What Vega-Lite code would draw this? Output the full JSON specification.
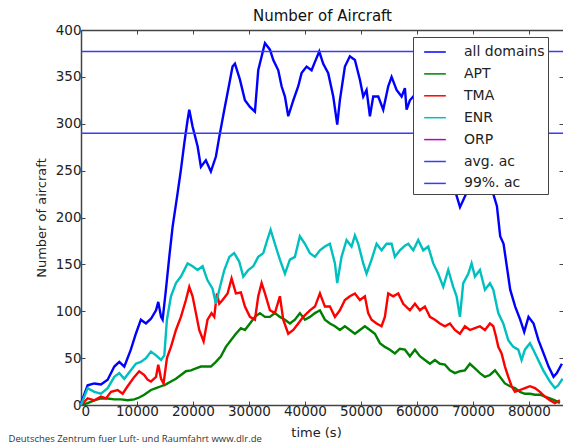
{
  "$schema": "https://vega.github.io/schema/vega-lite/v6.json",
  "width": 482,
  "height": 375,
  "autosize": {"type": "none"},
  "padding": {"left": 81, "top": 30, "right": 0, "bottom": 42},
  "background": "white",
  "config": {
    "view": {"stroke": null},
    "font": "DejaVu Sans",
    "axis": {
      "grid": false,
      "domainColor": "#444",
      "domainWidth": 1.5,
      "tickColor": "#444",
      "tickSize": -4,
      "tickWidth": 1,
      "labelFont": "DejaVu Sans",
      "labelFontSize": 13.5,
      "labelColor": "#222",
      "titleFont": "DejaVu Sans",
      "titleFontSize": 13,
      "titleFontWeight": "normal",
      "titleColor": "#222"
    }
  },
  "datasets": {
    "series": [
      {"s":"all domains","t":0,"v":2},{"s":"all domains","t":1190,"v":21},{"s":"all domains","t":2380,"v":23},{"s":"all domains","t":3570,"v":22},{"s":"all domains","t":4760,"v":27},{"s":"all domains","t":5950,"v":41},{"s":"all domains","t":6840,"v":46},{"s":"all domains","t":7735,"v":41},{"s":"all domains","t":8900,"v":59},{"s":"all domains","t":9800,"v":76},{"s":"all domains","t":10700,"v":91},{"s":"all domains","t":11600,"v":87},{"s":"all domains","t":12500,"v":92},{"s":"all domains","t":13400,"v":101},{"s":"all domains","t":13800,"v":110},{"s":"all domains","t":14300,"v":94},{"s":"all domains","t":14580,"v":91},{"s":"all domains","t":15170,"v":123},{"s":"all domains","t":15770,"v":158},{"s":"all domains","t":16360,"v":190},{"s":"all domains","t":17255,"v":226},{"s":"all domains","t":17850,"v":251},{"s":"all domains","t":18450,"v":279},{"s":"all domains","t":19040,"v":304},{"s":"all domains","t":19340,"v":315},{"s":"all domains","t":19930,"v":297},{"s":"all domains","t":20825,"v":276},{"s":"all domains","t":21420,"v":254},{"s":"all domains","t":22300,"v":261},{"s":"all domains","t":23200,"v":249},{"s":"all domains","t":24100,"v":265},{"s":"all domains","t":24700,"v":286},{"s":"all domains","t":25600,"v":315},{"s":"all domains","t":26500,"v":343},{"s":"all domains","t":27070,"v":361},{"s":"all domains","t":27500,"v":364},{"s":"all domains","t":28390,"v":347},{"s":"all domains","t":29285,"v":325},{"s":"all domains","t":30180,"v":318},{"s":"all domains","t":31070,"v":313},{"s":"all domains","t":31660,"v":357},{"s":"all domains","t":32560,"v":379},{"s":"all domains","t":32860,"v":386},{"s":"all domains","t":33750,"v":379},{"s":"all domains","t":34350,"v":368},{"s":"all domains","t":35240,"v":357},{"s":"all domains","t":35830,"v":340},{"s":"all domains","t":36430,"v":329},{"s":"all domains","t":37020,"v":308},{"s":"all domains","t":37920,"v":325},{"s":"all domains","t":38810,"v":340},{"s":"all domains","t":39400,"v":354},{"s":"all domains","t":40300,"v":361},{"s":"all domains","t":41190,"v":357},{"s":"all domains","t":41790,"v":366},{"s":"all domains","t":42560,"v":377},{"s":"all domains","t":43270,"v":364},{"s":"all domains","t":44160,"v":354},{"s":"all domains","t":45060,"v":329},{"s":"all domains","t":45770,"v":299},{"s":"all domains","t":46240,"v":325},{"s":"all domains","t":47140,"v":361},{"s":"all domains","t":48030,"v":372},{"s":"all domains","t":48930,"v":368},{"s":"all domains","t":49820,"v":347},{"s":"all domains","t":50420,"v":329},{"s":"all domains","t":51010,"v":336},{"s":"all domains","t":51610,"v":308},{"s":"all domains","t":52200,"v":329},{"s":"all domains","t":53100,"v":329},{"s":"all domains","t":53990,"v":315},{"s":"all domains","t":54880,"v":340},{"s":"all domains","t":55480,"v":350},{"s":"all domains","t":56370,"v":336},{"s":"all domains","t":57270,"v":329},{"s":"all domains","t":57860,"v":338},{"s":"all domains","t":58160,"v":315},{"s":"all domains","t":58750,"v":325},{"s":"all domains","t":59500,"v":330},{"s":"all domains","t":60500,"v":320},{"s":"all domains","t":62000,"v":305},{"s":"all domains","t":63500,"v":290},{"s":"all domains","t":65000,"v":265},{"s":"all domains","t":66500,"v":235},{"s":"all domains","t":67700,"v":211},{"s":"all domains","t":69000,"v":228},{"s":"all domains","t":70500,"v":240},{"s":"all domains","t":72000,"v":235},{"s":"all domains","t":73500,"v":228},{"s":"all domains","t":74300,"v":212},{"s":"all domains","t":74880,"v":180},{"s":"all domains","t":75480,"v":172},{"s":"all domains","t":76670,"v":123},{"s":"all domains","t":77560,"v":105},{"s":"all domains","t":78450,"v":91},{"s":"all domains","t":79170,"v":78},{"s":"all domains","t":79940,"v":94},{"s":"all domains","t":80840,"v":87},{"s":"all domains","t":81730,"v":69},{"s":"all domains","t":82630,"v":55},{"s":"all domains","t":83520,"v":41},{"s":"all domains","t":84410,"v":30},{"s":"all domains","t":85000,"v":34},{"s":"all domains","t":85900,"v":44},
      {"s":"APT","t":0,"v":0},{"s":"APT","t":1190,"v":2},{"s":"APT","t":2380,"v":5},{"s":"APT","t":3570,"v":7},{"s":"APT","t":4760,"v":7},{"s":"APT","t":5950,"v":6},{"s":"APT","t":7140,"v":6},{"s":"APT","t":8330,"v":5},{"s":"APT","t":9520,"v":6},{"s":"APT","t":10400,"v":8},{"s":"APT","t":11300,"v":11},{"s":"APT","t":12500,"v":16},{"s":"APT","t":13400,"v":18},{"s":"APT","t":14300,"v":20},{"s":"APT","t":15170,"v":22},{"s":"APT","t":16070,"v":25},{"s":"APT","t":16960,"v":28},{"s":"APT","t":17850,"v":32},{"s":"APT","t":18740,"v":36},{"s":"APT","t":19640,"v":37},{"s":"APT","t":20530,"v":39},{"s":"APT","t":21420,"v":41},{"s":"APT","t":22300,"v":41},{"s":"APT","t":23200,"v":41},{"s":"APT","t":24100,"v":46},{"s":"APT","t":25000,"v":52},{"s":"APT","t":25880,"v":62},{"s":"APT","t":26780,"v":69},{"s":"APT","t":27670,"v":76},{"s":"APT","t":28560,"v":82},{"s":"APT","t":29285,"v":80},{"s":"APT","t":30180,"v":87},{"s":"APT","t":31070,"v":94},{"s":"APT","t":31960,"v":98},{"s":"APT","t":32860,"v":94},{"s":"APT","t":33750,"v":94},{"s":"APT","t":34630,"v":98},{"s":"APT","t":35530,"v":94},{"s":"APT","t":36430,"v":91},{"s":"APT","t":37320,"v":87},{"s":"APT","t":38210,"v":91},{"s":"APT","t":39100,"v":98},{"s":"APT","t":40000,"v":91},{"s":"APT","t":40890,"v":94},{"s":"APT","t":41790,"v":98},{"s":"APT","t":42680,"v":101},{"s":"APT","t":43570,"v":91},{"s":"APT","t":44460,"v":87},{"s":"APT","t":45360,"v":84},{"s":"APT","t":46240,"v":80},{"s":"APT","t":47140,"v":84},{"s":"APT","t":48030,"v":80},{"s":"APT","t":48930,"v":76},{"s":"APT","t":49820,"v":80},{"s":"APT","t":50710,"v":84},{"s":"APT","t":51610,"v":80},{"s":"APT","t":52500,"v":76},{"s":"APT","t":53390,"v":66},{"s":"APT","t":54280,"v":62},{"s":"APT","t":55180,"v":59},{"s":"APT","t":56070,"v":55},{"s":"APT","t":56960,"v":60},{"s":"APT","t":57860,"v":59},{"s":"APT","t":58750,"v":52},{"s":"APT","t":59650,"v":59},{"s":"APT","t":60540,"v":52},{"s":"APT","t":61430,"v":48},{"s":"APT","t":62330,"v":44},{"s":"APT","t":63220,"v":48},{"s":"APT","t":64110,"v":44},{"s":"APT","t":65010,"v":43},{"s":"APT","t":65900,"v":37},{"s":"APT","t":66790,"v":34},{"s":"APT","t":67690,"v":36},{"s":"APT","t":68580,"v":37},{"s":"APT","t":69470,"v":44},{"s":"APT","t":70370,"v":39},{"s":"APT","t":71260,"v":34},{"s":"APT","t":72160,"v":30},{"s":"APT","t":73050,"v":32},{"s":"APT","t":73950,"v":37},{"s":"APT","t":74840,"v":30},{"s":"APT","t":75730,"v":23},{"s":"APT","t":76630,"v":20},{"s":"APT","t":77520,"v":18},{"s":"APT","t":78410,"v":14},{"s":"APT","t":79300,"v":12},{"s":"APT","t":80200,"v":12},{"s":"APT","t":81090,"v":11},{"s":"APT","t":81980,"v":11},{"s":"APT","t":82870,"v":9},{"s":"APT","t":83760,"v":7},{"s":"APT","t":84650,"v":5},{"s":"APT","t":85540,"v":2},
      {"s":"TMA","t":0,"v":0},{"s":"TMA","t":1190,"v":7},{"s":"TMA","t":2380,"v":5},{"s":"TMA","t":3570,"v":9},{"s":"TMA","t":4460,"v":7},{"s":"TMA","t":5360,"v":14},{"s":"TMA","t":6540,"v":16},{"s":"TMA","t":7440,"v":12},{"s":"TMA","t":8330,"v":20},{"s":"TMA","t":9520,"v":30},{"s":"TMA","t":10400,"v":36},{"s":"TMA","t":11300,"v":32},{"s":"TMA","t":11900,"v":27},{"s":"TMA","t":12500,"v":25},{"s":"TMA","t":13400,"v":30},{"s":"TMA","t":13800,"v":43},{"s":"TMA","t":14300,"v":28},{"s":"TMA","t":14750,"v":23},{"s":"TMA","t":15350,"v":50},{"s":"TMA","t":16070,"v":62},{"s":"TMA","t":16960,"v":80},{"s":"TMA","t":17850,"v":94},{"s":"TMA","t":18740,"v":112},{"s":"TMA","t":19340,"v":126},{"s":"TMA","t":19930,"v":116},{"s":"TMA","t":20530,"v":98},{"s":"TMA","t":21120,"v":80},{"s":"TMA","t":21900,"v":68},{"s":"TMA","t":22600,"v":91},{"s":"TMA","t":23320,"v":98},{"s":"TMA","t":23800,"v":94},{"s":"TMA","t":24280,"v":119},{"s":"TMA","t":24700,"v":108},{"s":"TMA","t":25290,"v":112},{"s":"TMA","t":26180,"v":119},{"s":"TMA","t":26900,"v":135},{"s":"TMA","t":27670,"v":119},{"s":"TMA","t":28560,"v":120},{"s":"TMA","t":29285,"v":105},{"s":"TMA","t":30180,"v":94},{"s":"TMA","t":31070,"v":91},{"s":"TMA","t":31660,"v":116},{"s":"TMA","t":32260,"v":130},{"s":"TMA","t":32860,"v":119},{"s":"TMA","t":33750,"v":101},{"s":"TMA","t":34630,"v":98},{"s":"TMA","t":35530,"v":116},{"s":"TMA","t":36130,"v":91},{"s":"TMA","t":37020,"v":76},{"s":"TMA","t":37920,"v":80},{"s":"TMA","t":38810,"v":87},{"s":"TMA","t":39700,"v":94},{"s":"TMA","t":40890,"v":101},{"s":"TMA","t":41790,"v":105},{"s":"TMA","t":42680,"v":119},{"s":"TMA","t":43570,"v":105},{"s":"TMA","t":44460,"v":105},{"s":"TMA","t":45360,"v":94},{"s":"TMA","t":46240,"v":101},{"s":"TMA","t":47140,"v":112},{"s":"TMA","t":48030,"v":116},{"s":"TMA","t":48930,"v":119},{"s":"TMA","t":49820,"v":112},{"s":"TMA","t":50710,"v":116},{"s":"TMA","t":51300,"v":98},{"s":"TMA","t":51900,"v":91},{"s":"TMA","t":52800,"v":87},{"s":"TMA","t":53690,"v":84},{"s":"TMA","t":54280,"v":94},{"s":"TMA","t":54880,"v":119},{"s":"TMA","t":55770,"v":116},{"s":"TMA","t":56670,"v":119},{"s":"TMA","t":57560,"v":108},{"s":"TMA","t":58750,"v":101},{"s":"TMA","t":59650,"v":108},{"s":"TMA","t":60540,"v":101},{"s":"TMA","t":61430,"v":105},{"s":"TMA","t":62330,"v":94},{"s":"TMA","t":63220,"v":91},{"s":"TMA","t":64110,"v":87},{"s":"TMA","t":65010,"v":84},{"s":"TMA","t":65900,"v":87},{"s":"TMA","t":66790,"v":80},{"s":"TMA","t":67690,"v":76},{"s":"TMA","t":68580,"v":84},{"s":"TMA","t":69470,"v":80},{"s":"TMA","t":70370,"v":82},{"s":"TMA","t":71260,"v":84},{"s":"TMA","t":72160,"v":80},{"s":"TMA","t":73050,"v":87},{"s":"TMA","t":73650,"v":84},{"s":"TMA","t":74130,"v":73},{"s":"TMA","t":74540,"v":62},{"s":"TMA","t":75130,"v":55},{"s":"TMA","t":75730,"v":41},{"s":"TMA","t":76330,"v":30},{"s":"TMA","t":76920,"v":20},{"s":"TMA","t":77520,"v":14},{"s":"TMA","t":78410,"v":16},{"s":"TMA","t":79300,"v":18},{"s":"TMA","t":80200,"v":20},{"s":"TMA","t":81090,"v":18},{"s":"TMA","t":81980,"v":14},{"s":"TMA","t":82870,"v":9},{"s":"TMA","t":83760,"v":5},{"s":"TMA","t":84650,"v":2},{"s":"TMA","t":85540,"v":5},
      {"s":"ENR","t":0,"v":0},{"s":"ENR","t":1190,"v":18},{"s":"ENR","t":2380,"v":14},{"s":"ENR","t":3570,"v":12},{"s":"ENR","t":4760,"v":18},{"s":"ENR","t":5950,"v":30},{"s":"ENR","t":6840,"v":34},{"s":"ENR","t":7735,"v":28},{"s":"ENR","t":8900,"v":37},{"s":"ENR","t":9800,"v":44},{"s":"ENR","t":10700,"v":46},{"s":"ENR","t":11600,"v":50},{"s":"ENR","t":12500,"v":57},{"s":"ENR","t":13400,"v":53},{"s":"ENR","t":14300,"v":48},{"s":"ENR","t":14880,"v":53},{"s":"ENR","t":15350,"v":91},{"s":"ENR","t":16070,"v":116},{"s":"ENR","t":16960,"v":130},{"s":"ENR","t":17850,"v":137},{"s":"ENR","t":19040,"v":151},{"s":"ENR","t":19930,"v":148},{"s":"ENR","t":20825,"v":144},{"s":"ENR","t":21720,"v":148},{"s":"ENR","t":22600,"v":133},{"s":"ENR","t":23500,"v":124},{"s":"ENR","t":24100,"v":108},{"s":"ENR","t":24700,"v":123},{"s":"ENR","t":25600,"v":144},{"s":"ENR","t":26500,"v":158},{"s":"ENR","t":27370,"v":162},{"s":"ENR","t":28260,"v":153},{"s":"ENR","t":28990,"v":137},{"s":"ENR","t":29880,"v":144},{"s":"ENR","t":30780,"v":148},{"s":"ENR","t":31660,"v":158},{"s":"ENR","t":32560,"v":162},{"s":"ENR","t":33270,"v":176},{"s":"ENR","t":33870,"v":187},{"s":"ENR","t":34630,"v":172},{"s":"ENR","t":35530,"v":155},{"s":"ENR","t":36430,"v":140},{"s":"ENR","t":37320,"v":155},{"s":"ENR","t":38210,"v":158},{"s":"ENR","t":39100,"v":180},{"s":"ENR","t":40000,"v":172},{"s":"ENR","t":40890,"v":162},{"s":"ENR","t":41790,"v":158},{"s":"ENR","t":42680,"v":165},{"s":"ENR","t":43570,"v":169},{"s":"ENR","t":44460,"v":172},{"s":"ENR","t":45360,"v":151},{"s":"ENR","t":45770,"v":130},{"s":"ENR","t":46540,"v":158},{"s":"ENR","t":47440,"v":176},{"s":"ENR","t":48330,"v":169},{"s":"ENR","t":48930,"v":181},{"s":"ENR","t":49520,"v":172},{"s":"ENR","t":50420,"v":151},{"s":"ENR","t":51010,"v":140},{"s":"ENR","t":51900,"v":155},{"s":"ENR","t":52800,"v":172},{"s":"ENR","t":53690,"v":165},{"s":"ENR","t":54580,"v":172},{"s":"ENR","t":55480,"v":172},{"s":"ENR","t":56070,"v":158},{"s":"ENR","t":56960,"v":165},{"s":"ENR","t":57860,"v":170},{"s":"ENR","t":58450,"v":172},{"s":"ENR","t":59350,"v":165},{"s":"ENR","t":60240,"v":176},{"s":"ENR","t":61130,"v":165},{"s":"ENR","t":62030,"v":169},{"s":"ENR","t":62920,"v":151},{"s":"ENR","t":63810,"v":140},{"s":"ENR","t":64710,"v":126},{"s":"ENR","t":65600,"v":144},{"s":"ENR","t":66490,"v":126},{"s":"ENR","t":67090,"v":116},{"s":"ENR","t":67690,"v":94},{"s":"ENR","t":68280,"v":130},{"s":"ENR","t":69180,"v":140},{"s":"ENR","t":69770,"v":151},{"s":"ENR","t":70370,"v":137},{"s":"ENR","t":71260,"v":144},{"s":"ENR","t":72160,"v":123},{"s":"ENR","t":73050,"v":130},{"s":"ENR","t":73650,"v":123},{"s":"ENR","t":74540,"v":98},{"s":"ENR","t":75430,"v":87},{"s":"ENR","t":76330,"v":69},{"s":"ENR","t":77220,"v":62},{"s":"ENR","t":78110,"v":59},{"s":"ENR","t":78700,"v":48},{"s":"ENR","t":79300,"v":59},{"s":"ENR","t":80200,"v":66},{"s":"ENR","t":80790,"v":59},{"s":"ENR","t":81680,"v":48},{"s":"ENR","t":82570,"v":37},{"s":"ENR","t":83760,"v":25},{"s":"ENR","t":84650,"v":18},{"s":"ENR","t":85250,"v":21},{"s":"ENR","t":86020,"v":28}
    ],
    "ref": [
      {"s":"avg. ac","t":0,"v":290},{"s":"avg. ac","t":86100,"v":290},
      {"s":"99%. ac","t":0,"v":377},{"s":"99%. ac","t":86100,"v":377}
    ]
  },
  "layer": [
    {
      "data": {"name": "series"},
      "mark": {"type": "line", "interpolate": "linear"},
      "encoding": {
        "x": {"field": "t", "type": "quantitative", "scale": {"domain": [0, 86100], "nice": false, "zero": false},
              "axis": {"orient": "bottom", "title": "time (s)", "values": [0,10000,20000,30000,40000,50000,60000,70000,80000], "format": "d", "labelPadding": 3, "titlePadding": 9, "titleX": 235}},
        "y": {"field": "v", "type": "quantitative", "scale": {"domain": [0, 400], "nice": false},
              "axis": {"orient": "left", "title": "Number of aircraft", "values": [0,50,100,150,200,250,300,350,400], "labelPadding": 4, "titlePadding": 7}},
        "strokeWidth": {"value": 2.4},
        "color": {"field": "s", "type": "nominal",
                  "scale": {"domain": ["all domains","APT","TMA","ENR","ORP","avg. ac","99%. ac"], "range": ["#0000ff","#008000","#ff0000","#00bfbf","#bf00bf","#3a3aff","#3a3aff"]},
                  "legend": {"title": null, "orient": "none", "legendX": 332, "legendY": 7, "fillColor": "white", "strokeColor": "#444", "padding": 3, "cornerRadius": 0, "symbolType": "stroke", "symbolSize": 470, "symbolStrokeWidth": 1.5, "labelFont": "DejaVu Sans", "labelFontSize": 14, "labelColor": "#222", "labelOffset": 17, "rowPadding": 2.9, "symbolOffset": 7}}
      }
    },
    {
      "data": {"name": "ref"},
      "mark": {"type": "line", "strokeWidth": 1.5},
      "encoding": {
        "x": {"field": "t", "type": "quantitative",
              "axis": {"orient": "top", "labels": false, "title": "Number of Aircraft", "titleFontSize": 15, "titleColor": "#111", "titlePadding": 6, "values": [0,10000,20000,30000,40000,50000,60000,70000,80000]}},
        "y": {"field": "v", "type": "quantitative",
              "axis": {"orient": "right", "labels": false, "domain": false, "values": [0,50,100,150,200,250,300,350,400],
                       "title": "Deutsches Zentrum fuer Luft- und Raumfahrt www.dlr.de", "titleAngle": 0, "titleAlign": "left", "titleBaseline": "middle", "titleX": -555, "titleY": 408, "titleFont": "Open Sans", "titleFontSize": 9.5, "titleColor": "#333"}},
        "color": {"field": "s", "type": "nominal",
                  "legend": {"title": null, "orient": "none", "legendX": 332, "legendY": 7, "fillColor": "white", "strokeColor": "#444", "padding": 3, "cornerRadius": 0, "symbolType": "stroke", "symbolSize": 470, "symbolStrokeWidth": 1.5, "labelFont": "DejaVu Sans", "labelFontSize": 14, "labelColor": "#222", "labelOffset": 17, "rowPadding": 2.9, "symbolOffset": 7}}
      }
    }
  ],
  "resolve": {"axis": {"x": "independent", "y": "independent"}}
}
